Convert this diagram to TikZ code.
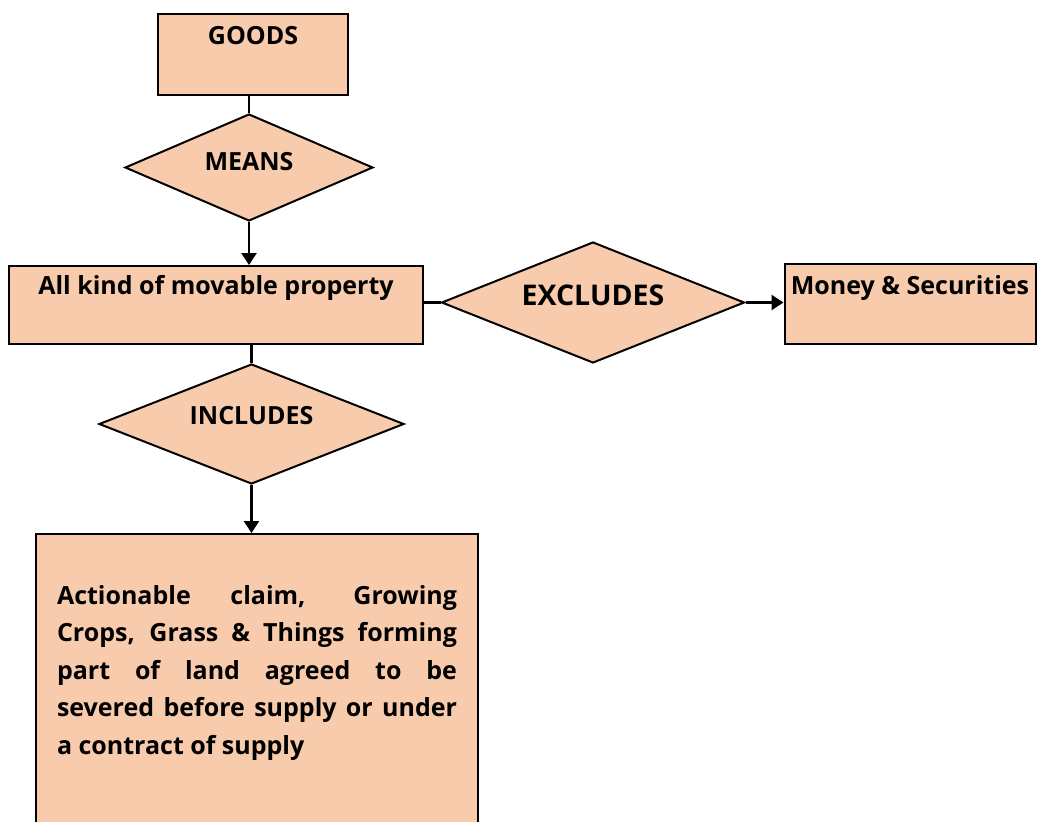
\documentclass[tikz,border=0pt]{standalone}
\usepackage{fontspec}
\setmainfont{Open Sans}
\usetikzlibrary{shapes.geometric,arrows.meta}
\definecolor{peach}{HTML}{F8CBAD}
\begin{document}
\begin{tikzpicture}
[
    x=1pt, y=1pt,
    every node/.style={draw, fill=peach, line width=2pt, inner sep=0pt,
        font=\bfseries\fontsize{25}{37.5}\selectfont},
    box/.style={rectangle, anchor=north},
    choice/.style={diamond, aspect=2.5, text height=18pt, text depth=12pt},
    conn/.style={line width=2.6pt},
    arrow/.style={conn, -{Triangle[width=15pt,length=12pt]}},
]
\useasboundingbox (0,0) rectangle (1037,-822);
\node[box, minimum width=190pt, text height=30pt, text depth=51pt] (goods) at (253,-13) {GOODS};
\node[choice, minimum width=248pt, minimum height=107pt] (means) at (249,-167.5) {MEANS};
\node[box, minimum width=414pt, text height=28pt, text depth=50pt] (movable) at (216,-265) {All kind of movable property};
\node[choice, minimum width=303pt, minimum height=121pt,
    font=\bfseries\fontsize{28.5}{36}\selectfont] (excludes) at (593,-302.5) {EXCLUDES};
\node[box, minimum width=251pt, text height=30pt, text depth=50pt] (money) at (910,-263) {Money \& Securities};
\node[choice, minimum width=305pt, minimum height=120pt, text depth=18pt] (includes) at (251.5,-424) {INCLUDES};
\node[box, text width=400pt, inner xsep=21pt, align=justify, text height=70pt, text depth=240pt] (claims) at (257,-533)
    {Actionable claim, Growing\linebreak Crops, Grass \& Things forming\linebreak part of land agreed to be\linebreak severed before supply or under\linebreak a contract of supply};
\draw[conn] (means.north |- goods.south) -- (means.north);
\draw[arrow] (means.south) -- (means.south |- movable.north);
\draw[conn] (movable.east |- excludes.west) -- (excludes.west);
\draw[arrow] (excludes.east) -- (excludes.east -| money.west);
\draw[conn] (includes.north |- movable.south) -- (includes.north);
\draw[arrow] (includes.south) -- (includes.south |- claims.north);
\end{tikzpicture}
\end{document}
